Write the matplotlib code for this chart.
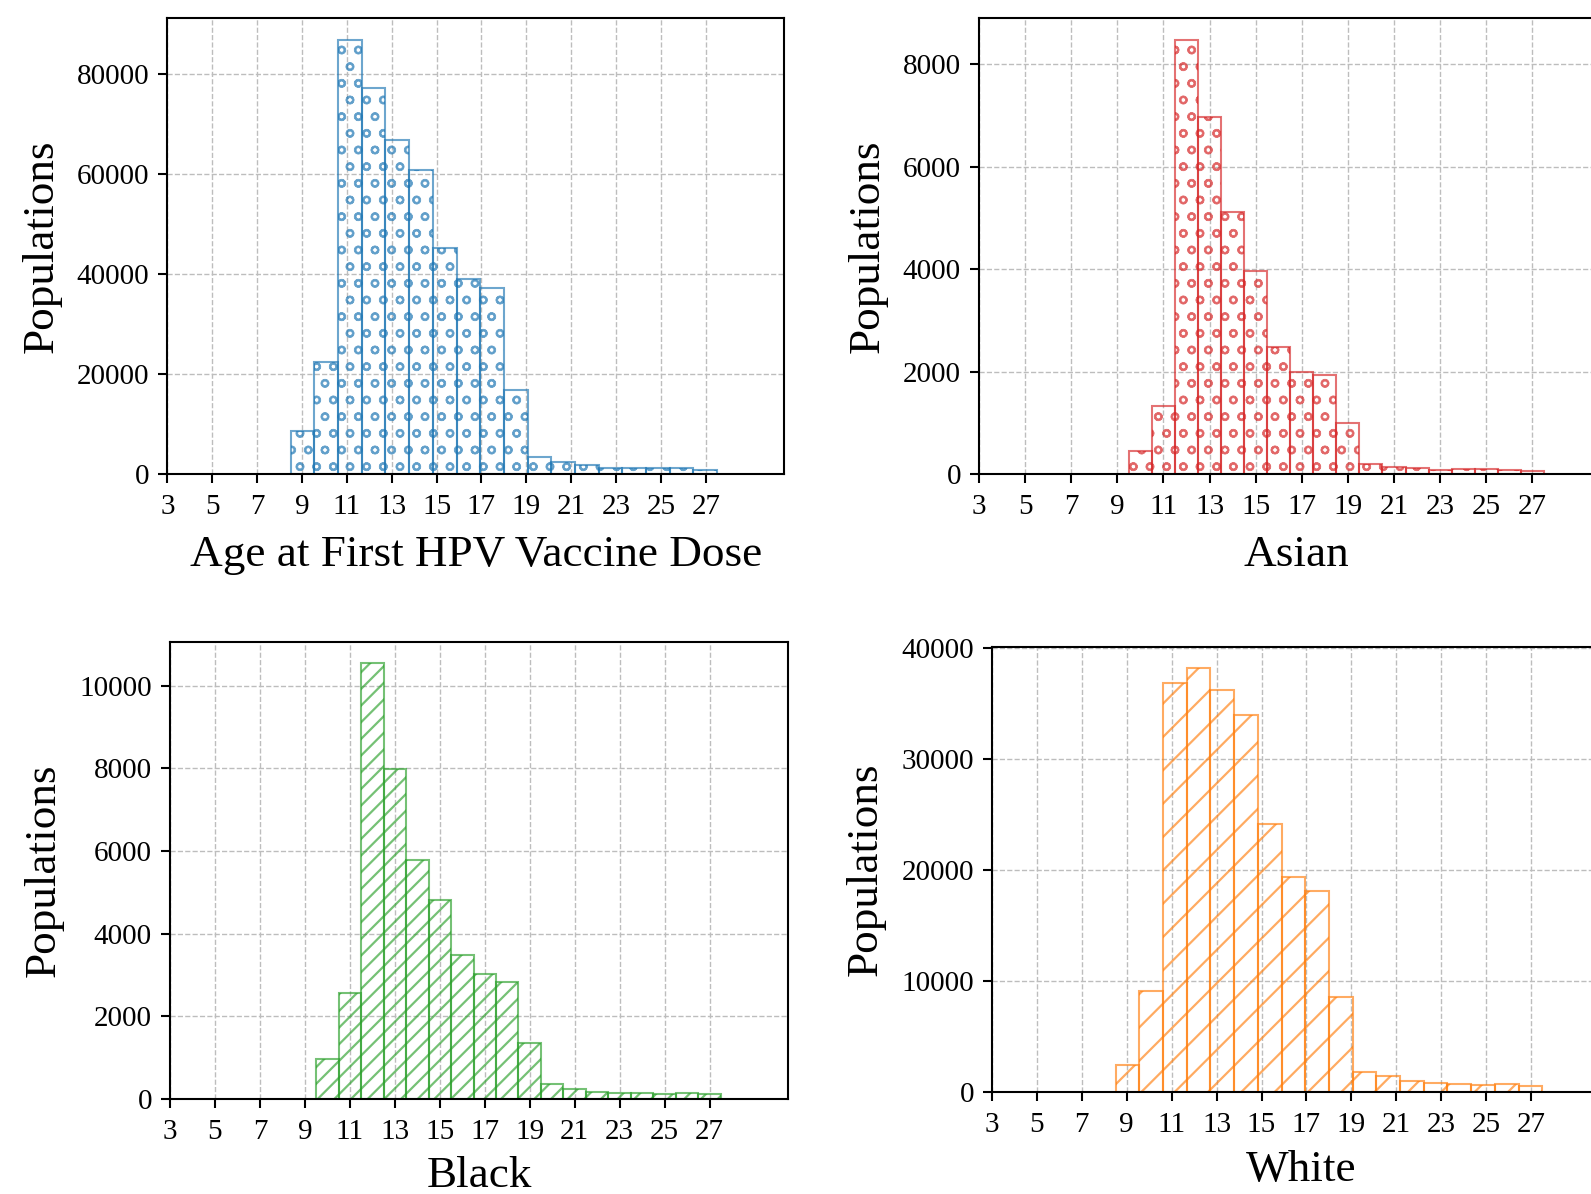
import numpy as np
import matplotlib
matplotlib.use("Agg")
import matplotlib.pyplot as plt

plt.rcParams['font.family'] = ['Liberation Serif', 'DejaVu Serif']
plt.rcParams['hatch.linewidth'] = 1.6

# ---- data (counts per bin) ----
all_counts = [8600, 22450, 86800, 77150, 66830, 60840, 45330, 39080, 37220, 16930,
              3420, 2420, 1760, 1290, 1160, 1160, 1290, 900]
asian_counts = [456, 1328, 8474, 6977, 5109, 3964, 2486, 1998, 1933, 1009,
                195, 143, 124, 91, 104, 104, 91, 65]
black_counts = [962, 2563, 10541, 7995, 5796, 4810, 3492, 3023, 2821, 1350,
                356, 243, 178, 154, 154, 121, 154, 121]
white_counts = [2405, 9107, 36910, 38233, 36219, 33964, 24106, 19327, 18124, 8506,
                1803, 1443, 992, 751, 691, 631, 721, 541]

labels = ["Age at First HPV Vaccine Dose", "Asian", "Black", "White"]
xticks = list(range(3, 29, 2))
yticks = [
    [0, 20000, 40000, 60000, 80000],
    [0, 2000, 4000, 6000, 8000],
    [0, 2000, 4000, 6000, 8000, 10000],
    [0, 10000, 20000, 30000, 40000],
]

bins_wide = np.linspace(8.5, 27.5, 19)   # 18 bins from 8.5 to 27.5
bins_unit = np.arange(9.5, 28.5, 1.0)     # 18 bins from 9.5 to 27.5

W, H = 1591, 1194
fig = plt.figure(figsize=(W / 100, H / 100), dpi=100)

def rect(l, r, t, b):
    return [l / W, 1 - b / H, (r - l) / W, (b - t) / H]

panels = [
    dict(counts=all_counts, bins=bins_wide, color='#1f77b4', hatch='o',
         rect=rect(167.4, 784.3, 18.3, 474.3), xlp=10.5, ylp=11),
    dict(counts=asian_counts, bins=bins_unit, color='#d62728', hatch='o',
         rect=rect(979, 1613, 18.3, 474.3), xlp=10.5, ylp=11),
    dict(counts=black_counts, bins=bins_unit, color='#2ca02c', hatch='//',
         rect=rect(170, 788.3, 641.7, 1099), xlp=8, ylp=11),
    dict(counts=white_counts, bins=bins_wide, color='#ff7f0e', hatch='/',
         rect=rect(992, 1609.7, 646.7, 1091.7), xlp=9, ylp=11),
]

for i, p in enumerate(panels):
    ax = fig.add_axes(p['rect'])
    b = p['bins']
    centers = (b[:-1] + b[1:]) / 2
    ax.hist(centers, bins=b, weights=p['counts'], histtype='bar',
            facecolor='none', edgecolor=p['color'], alpha=0.65,
            hatch=p['hatch'], linewidth=1.5, zorder=2)
    ax.set_xlim(3, 30.5)
    ax.set_ylim(0, max(p['counts']) * 1.05)
    ax.set_xticks(xticks)
    ax.set_yticks(yticks[i])
    ax.grid(True, linestyle='--', color='#bdbdbd', linewidth=1.0, zorder=0)
    ax.set_axisbelow(True)
    for s in ax.spines.values():
        s.set_linewidth(1.5)
    ax.tick_params(axis='both', labelsize=21, length=6.5, width=1.5,
                   direction='out')
    ax.tick_params(axis='x', pad=8)
    ax.tick_params(axis='y', pad=6.5)
    ax.set_xlabel(labels[i], fontsize=32.5, labelpad=p['xlp'])
    ax.set_ylabel("Populations", fontsize=32.5, labelpad=p['ylp'])

fig.savefig("out.png", dpi=100)
